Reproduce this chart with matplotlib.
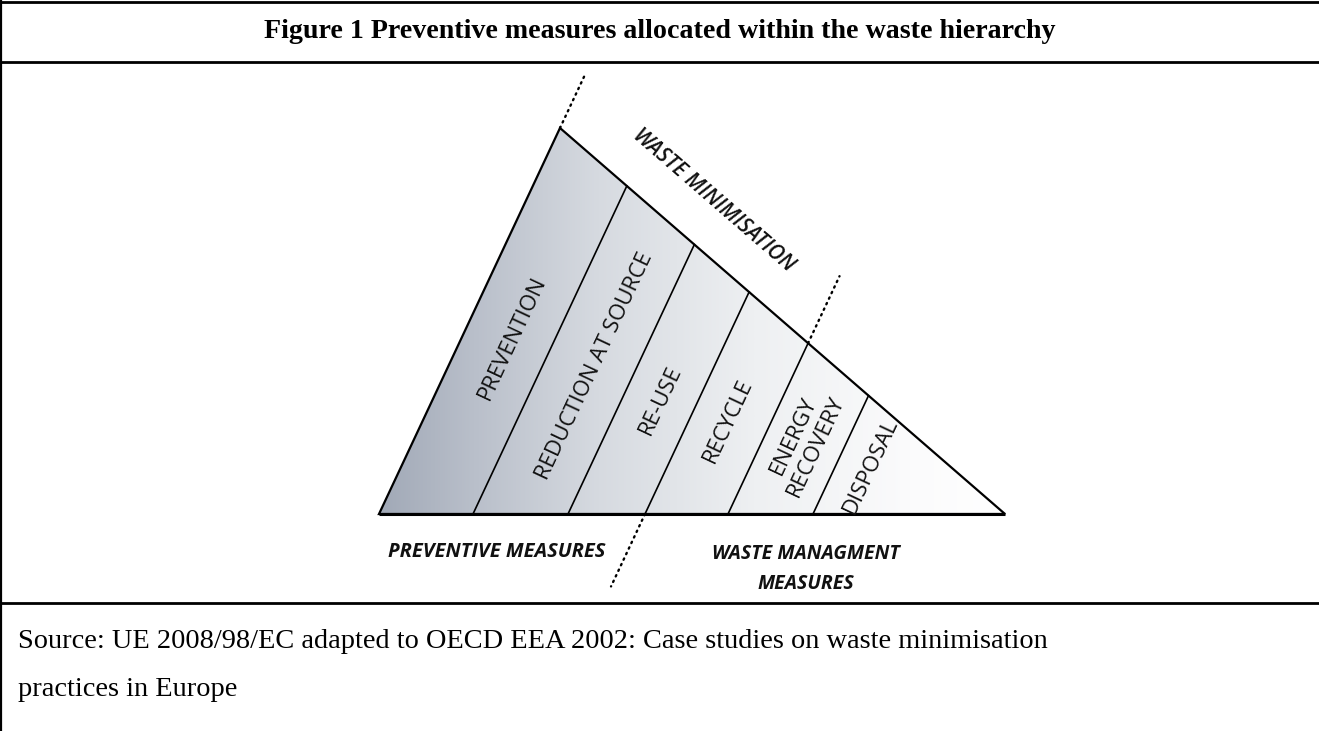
import matplotlib
matplotlib.use("Agg")
import matplotlib.pyplot as plt
import numpy as np
from matplotlib.patches import Polygon
from matplotlib.colors import LinearSegmentedColormap

W, H = 1319, 731

# diagram geometry, pixel space (y grows downwards)
left_corner = (379, 514)
apex = (560, 128)
right_corner = (1005, 514)
band_edges = [473, 568, 645, 728, 813]          # divider feet on the base line

band_labels = ["PREVENTION", "REDUCTION AT SOURCE", "RE-USE", "RECYCLE",
               "ENERGY\nRECOVERY", "DISPOSAL"]
label_centres = [(512, 338), (595, 366), (661, 400), (728, 421), (805, 441), (871, 466)]

title = "Figure 1 Preventive measures allocated within the waste hierarchy"
source_lines = ["Source: UE 2008/98/EC adapted to OECD EEA 2002: Case studies on waste minimisation",
                "practices in Europe"]

grad_stops = [(0.0, "#a1a9b7"), (0.15, "#b9bfca"), (0.35, "#d6dae0"),
              (0.6, "#eef0f2"), (0.85, "#fbfbfc"), (1.0, "#ffffff")]


def divider_top(xb):
    # walk from the foot parallel to the left edge until the hypotenuse
    d = np.subtract(apex, left_corner)
    h = np.subtract(right_corner, apex)
    A = np.array([[d[0], -h[0]], [d[1], -h[1]]])
    b = np.subtract(apex, (xb, left_corner[1]))
    t, s = np.linalg.solve(A, b)
    return xb + d[0] * t, left_corner[1] + d[1] * t


def unit_dir():
    d = np.subtract(apex, left_corner).astype(float)
    return d / np.hypot(*d)


fig = plt.figure(figsize=(W / 100, H / 100), dpi=100)
ax = fig.add_axes([0, 0, 1, 1])

# gradient fill clipped to the triangle
cmap = LinearSegmentedColormap.from_list("wh", grad_stops)
grad = np.linspace(0, 1, 512)[None, :]
im = ax.imshow(grad, cmap=cmap, extent=(left_corner[0], right_corner[0], left_corner[1], apex[1]),
               aspect="auto", zorder=1, interpolation="bilinear")
tri = Polygon([left_corner, apex, right_corner], closed=True, facecolor="none",
              edgecolor="black", lw=1.6, joinstyle="miter", zorder=4)
ax.add_patch(tri)
im.set_clip_path(tri)
ax.plot([left_corner[0], right_corner[0]], [left_corner[1], right_corner[1]],
        color="black", lw=2.2, zorder=5, solid_capstyle="butt")

for xb in band_edges:
    xt, yt = divider_top(xb)
    ax.plot([xb, xt], [left_corner[1], yt], color="black", lw=1.2, zorder=3)

# dotted boundaries
u = unit_dir()
dots = dict(color="black", lw=1.7, linestyle=(0, (0.6, 2.0)), dash_capstyle="round", zorder=3)
ax.plot([apex[0], apex[0] + u[0] * 58], [apex[1], apex[1] + u[1] * 58], **dots)
x4, y4 = divider_top(band_edges[3])
ax.plot([x4, x4 + u[0] * 74], [y4, y4 + u[1] * 74], **dots)
xb3 = band_edges[2]
ax.plot([xb3, xb3 - u[0] * 80], [left_corner[1], left_corner[1] - u[1] * 80], **dots)

# band labels, rotated along the dividers
ang = np.degrees(np.arctan2(-(apex[1] - left_corner[1]), apex[0] - left_corner[0]))
for lab, (cx, cy) in zip(band_labels, label_centres):
    ax.text(cx, cy, lab, rotation=ang, rotation_mode="anchor", ha="center", va="center",
            fontsize=16, family="Open Sans", color="#111111", linespacing=1.2,
            multialignment="center", zorder=6)

hyp = np.degrees(np.arctan2(-(right_corner[1] - apex[1]), right_corner[0] - apex[0]))
ax.text(714, 200, "WASTE MINIMISATION", rotation=hyp, rotation_mode="anchor",
        ha="center", va="center", fontsize=15, family="Open Sans", style="italic",
        weight="semibold", color="#111111")

ax.text(497, 552, "PREVENTIVE MEASURES", ha="center", va="center", fontsize=14.5,
        family="Open Sans", style="italic", weight="bold", color="#111111")
ax.text(806, 569, "WASTE MANAGMENT\nMEASURES", ha="center", va="center", fontsize=14,
        family="Open Sans", style="italic", weight="bold", color="#111111", linespacing=1.7)

# table frame
for y in (2, 62, 603):
    ax.plot([0, W], [y, y], color="black", lw=2.0, solid_capstyle="butt")
ax.plot([1, 1], [0, H], color="black", lw=1.6)

t = ax.text(W / 2, 31, title, ha="center", va="center", family="Liberation Serif",
            weight="bold", fontsize=19)
s1 = ax.text(18, 641, source_lines[0], ha="left", va="center", family="Liberation Serif",
             fontsize=18)
s2 = ax.text(18, 689, source_lines[1], ha="left", va="center", family="Liberation Serif",
             fontsize=18)

# scale the serif lines to the measured widths
renderer = fig.canvas.get_renderer()
for txt, width in ((t, 792), (s1, 1028)):
    bb = txt.get_window_extent(renderer)
    txt.set_fontsize(txt.get_fontsize() * width / bb.width)
s2.set_fontsize(s1.get_fontsize())

ax.set_xlim(0, W)
ax.set_ylim(H, 0)
ax.axis("off")

fig.savefig("out.png", dpi=100, facecolor="white")
